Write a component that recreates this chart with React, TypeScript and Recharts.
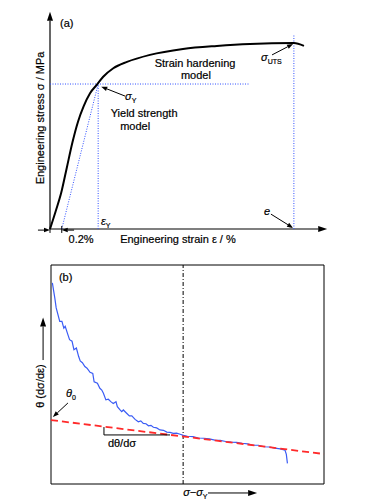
import React from "react";
import {
  ComposedChart,
  Line,
  XAxis,
  YAxis,
  ReferenceLine,
  ReferenceDot,
  ReferenceArea,
} from "recharts";

type Pt = { x: number; y: number };
type Note = {
  x: number;
  y: number;
  text: string;
  sub?: string;
  anchor?: "start" | "middle" | "end";
  italic?: boolean;
  rotate?: boolean;
};

// ---- panel (a): engineering stress-strain curve (schematic units) ----
const stressStrain: Pt[] = [
  { x: 0, y: 0 },
  { x: 2.0, y: 8.0 },
  { x: 4.0, y: 16.5 },
  { x: 6.0, y: 28.0 },
  { x: 8.0, y: 39.5 },
  { x: 10.0, y: 49.0 },
  { x: 12.0, y: 56.0 },
  { x: 14.3, y: 62.0 },
  { x: 16.7, y: 65.8 },
  { x: 19.0, y: 69.5 },
  { x: 22.6, y: 73.4 },
  { x: 27.5, y: 76.3 },
  { x: 35.7, y: 79.5 },
  { x: 47.5, y: 82.2 },
  { x: 59.6, y: 83.6 },
  { x: 71.4, y: 84.5 },
  { x: 87.1, y: 84.9 },
  { x: 90.7, y: 83.6 },
];
const yieldStrain = 17.2;
const yieldStress = 66.2;
const utsStrain = 87.1;
const offsetStrain = 4.2;

const notesA: Note[] = [
  { x: 3.6, y: 92.2, text: "(a)" },
  { x: 51.8, y: 74.0, text: "Strain hardening", anchor: "middle" },
  { x: 52.1, y: 68.5, text: "model", anchor: "middle" },
  { x: 26.8, y: 58.9, text: "σ", sub: "Y", italic: true },
  { x: 33.6, y: 51.1, text: "Yield strength", anchor: "middle" },
  { x: 30.4, y: 45.2, text: "model", anchor: "middle" },
  { x: 75.4, y: 76.7, text: "σ", sub: "UTS", italic: true },
  { x: 76.4, y: 6.4, text: "e", italic: true },
  { x: 18.2, y: 1.6, text: "ε", sub: "Y", italic: true },
  { x: 11.1, y: -6.4, text: "0.2%", anchor: "middle" },
  { x: 45.7, y: -6.4, text: "Engineering strain ε / %", anchor: "middle" },
  { x: -2.1, y: 50.7, text: "Engineering stress σ / MPa", anchor: "middle", rotate: true },
];
const arrowsA: [Pt, Pt][] = [
  [{ x: 26.8, y: 60.7 }, { x: 18.3, y: 65.0 }],
  [{ x: 79.3, y: 79.5 }, { x: 86.8, y: 84.5 }],
  [{ x: 78.9, y: 6.8 }, { x: 86.8, y: 0.5 }],
  [{ x: -4.3, y: -0.5 }, { x: 0, y: -0.5 }],
  [{ x: 8.6, y: -0.5 }, { x: offsetStrain, y: -0.5 }],
];

// ---- panel (b): hardening rate vs net flow stress ----
const hardeningRate: Pt[] = [
  { x: 0.5, y: 91.8 },
  { x: 1.4, y: 84.9 },
  { x: 1.9, y: 80.4 },
  { x: 3.2, y: 74.3 },
  { x: 4.0, y: 74.3 },
  { x: 4.7, y: 71.2 },
  { x: 5.2, y: 72.0 },
  { x: 6.0, y: 68.9 },
  { x: 6.8, y: 65.9 },
  { x: 7.7, y: 65.2 },
  { x: 8.4, y: 61.3 },
  { x: 9.3, y: 62.1 },
  { x: 10.1, y: 58.3 },
  { x: 10.7, y: 56.2 },
  { x: 11.5, y: 55.4 },
  { x: 12.4, y: 53.6 },
  { x: 13.2, y: 52.9 },
  { x: 14.3, y: 51.0 },
  { x: 15.3, y: 50.5 },
  { x: 15.8, y: 46.7 },
  { x: 17.0, y: 46.0 },
  { x: 17.9, y: 43.7 },
  { x: 18.6, y: 42.9 },
  { x: 19.2, y: 41.4 },
  { x: 20.1, y: 38.4 },
  { x: 21.0, y: 38.7 },
  { x: 21.9, y: 37.6 },
  { x: 22.8, y: 36.8 },
  { x: 23.8, y: 37.6 },
  { x: 24.3, y: 35.3 },
  { x: 25.3, y: 33.8 },
  { x: 25.9, y: 33.0 },
  { x: 26.5, y: 33.8 },
  { x: 27.7, y: 32.3 },
  { x: 28.7, y: 31.1 },
  { x: 29.6, y: 31.1 },
  { x: 30.8, y: 29.5 },
  { x: 32.0, y: 28.4 },
  { x: 32.9, y: 28.8 },
  { x: 33.8, y: 27.7 },
  { x: 34.8, y: 27.5 },
  { x: 35.7, y: 26.6 },
  { x: 36.6, y: 26.8 },
  { x: 37.5, y: 25.9 },
  { x: 38.7, y: 25.6 },
  { x: 39.9, y: 24.7 },
  { x: 41.2, y: 24.5 },
  { x: 42.4, y: 23.7 },
  { x: 43.6, y: 23.6 },
  { x: 44.8, y: 23.1 },
  { x: 46.0, y: 23.2 },
  { x: 47.3, y: 22.7 },
  { x: 48.5, y: 22.2 },
  { x: 50, y: 21.8 },
  { x: 52, y: 21.6 },
  { x: 54, y: 21.0 },
  { x: 56, y: 20.9 },
  { x: 58, y: 20.6 },
  { x: 60, y: 20.0 },
  { x: 62, y: 19.9 },
  { x: 64, y: 19.4 },
  { x: 66, y: 19.1 },
  { x: 68, y: 19.0 },
  { x: 70, y: 18.6 },
  { x: 72, y: 18.3 },
  { x: 74, y: 17.7 },
  { x: 76, y: 17.7 },
  { x: 78, y: 17.0 },
  { x: 80, y: 16.9 },
  { x: 82, y: 16.4 },
  { x: 84, y: 16.0 },
  { x: 85.7, y: 15.5 },
  { x: 86.2, y: 13.5 },
  { x: 86.6, y: 9.4 },
];
const linearFit: Pt[] = [
  { x: 0, y: 29.2 },
  { x: 100, y: 13.7 },
];
const splitX = 48.4;

const notesB: Note[] = [
  { x: 2.9, y: 92.7, text: "(b)" },
  { x: 5.5, y: 39.7, text: "θ", sub: "0", italic: true },
  { x: 26.0, y: 16.9, text: "dθ/dσ", anchor: "middle" },
  { x: 48.4, y: -5.5, text: "σ−σ", sub: "Y", italic: true },
  { x: -2.6, y: 44.7, text: "θ (dσ/dε)", anchor: "middle", rotate: true },
];
const arrowsB: [Pt, Pt][] = [
  [{ x: 6.2, y: 37.0 }, { x: 0.7, y: 30.6 }],
  [{ x: -2.9, y: 56.6 }, { x: -2.9, y: 76.0 }],
  [{ x: 57.5, y: -4.1 }, { x: 75.5, y: -4.1 }],
];
const slopeMark: [Pt, Pt][] = [
  [{ x: 19.4, y: 26.0 }, { x: 19.4, y: 22.4 }],
  [{ x: 19.4, y: 22.4 }, { x: 43.6, y: 22.4 }],
];

const FONT = "'Liberation Sans', Arial, sans-serif";
const GUIDE = "#3050ff";

const arrowShape = (head: number, width: number) => (p: any) => {
  const { x1, y1, x2, y2, stroke } = p;
  const dx = x2 - x1;
  const dy = y2 - y1;
  const len = Math.hypot(dx, dy) || 1;
  const ux = dx / len;
  const uy = dy / len;
  const bx = x2 - ux * head;
  const by = y2 - uy * head;
  const px = (-uy * width) / 2;
  const py = (ux * width) / 2;
  return (
    <g>
      <line x1={x1} y1={y1} x2={bx} y2={by} stroke={stroke} strokeWidth={p.strokeWidth} />
      <polygon points={`${x2},${y2} ${bx + px},${by + py} ${bx - px},${by - py}`} fill={stroke} />
    </g>
  );
};

const noteShape = (n: Note) => (p: any) => {
  const { cx, cy } = p;
  return (
    <text
      x={cx}
      y={cy}
      fontFamily={FONT}
      fontSize={11}
      fill="#000"
      stroke="#000"
      strokeWidth={0.2}
      textAnchor={n.anchor || "start"}
      fontStyle={n.italic ? "italic" : "normal"}
      transform={n.rotate ? `rotate(-90 ${cx} ${cy})` : undefined}
    >
      {n.text}
      {n.sub && (
        <tspan fontSize={7} dy={3} fontStyle="normal">
          {n.sub}
        </tspan>
      )}
    </text>
  );
};

const renderNotes = (notes: Note[], key: string) =>
  notes.map((n, i) => (
    <ReferenceDot key={`${key}${i}`} x={n.x} y={n.y} r={0} ifOverflow="visible" shape={noteShape(n)} />
  ));

const renderArrows = (arrows: [Pt, Pt][], key: string, head = 6, width = 4.5) =>
  arrows.map((a, i) => (
    <ReferenceLine
      key={`${key}${i}`}
      segment={a}
      ifOverflow="visible"
      stroke="#000"
      strokeWidth={1}
      shape={arrowShape(head, width)}
    />
  ));

export default function App() {
  return (
    <div style={{ position: "absolute", left: 0, top: 0, width: 378, height: 502, background: "#fff" }}>
      <ComposedChart width={378} height={250} margin={{ top: 10, right: 48, bottom: 21, left: 50 }}>
        <XAxis type="number" dataKey="x" domain={[0, 100]} hide />
        <YAxis type="number" dataKey="y" domain={[0, 100]} hide />
        <ReferenceLine segment={[{ x: 0, y: 0 }, { x: 0, y: 99.2 }]} ifOverflow="visible" stroke="#000" strokeWidth={1.2} shape={arrowShape(9, 6)} />
        <ReferenceLine segment={[{ x: -0.2, y: 0 }, { x: 99, y: 0 }]} ifOverflow="visible" stroke="#000" strokeWidth={1.2} shape={arrowShape(9, 6)} />
        <ReferenceLine segment={[{ x: 0, y: yieldStress }, { x: 71.4, y: yieldStress }]} ifOverflow="visible" stroke={GUIDE} strokeDasharray="1 1.5" />
        <ReferenceLine segment={[{ x: yieldStrain, y: 0 }, { x: yieldStrain, y: yieldStress }]} ifOverflow="visible" stroke={GUIDE} strokeDasharray="1 1.5" />
        <ReferenceLine segment={[{ x: utsStrain, y: 0 }, { x: utsStrain, y: 89 }]} ifOverflow="visible" stroke={GUIDE} strokeDasharray="1 1.5" />
        <ReferenceLine segment={[{ x: offsetStrain, y: 0 }, { x: yieldStrain, y: yieldStress }]} ifOverflow="visible" stroke={GUIDE} strokeDasharray="1 1.5" />
        <ReferenceLine segment={[{ x: offsetStrain, y: -1.8 }, { x: offsetStrain, y: 1.4 }]} ifOverflow="visible" stroke="#000" />
        <ReferenceLine segment={[{ x: 0, y: -1.8 }, { x: 0, y: 0 }]} ifOverflow="visible" stroke="#000" />
        <Line data={stressStrain} dataKey="y" type="monotone" stroke="#000" strokeWidth={2} dot={false} isAnimationActive={false} />
        {renderArrows(arrowsA, "aa")}
        {renderNotes(notesA, "na")}
      </ComposedChart>
      <ComposedChart width={378} height={252} margin={{ top: 15, right: 54, bottom: 18, left: 51 }}>
        <XAxis type="number" dataKey="x" domain={[0, 100]} hide />
        <YAxis type="number" dataKey="y" domain={[0, 100]} hide />
        <ReferenceArea x1={0} x2={100} y1={0} y2={100} fill="none" fillOpacity={0} stroke="#000" strokeWidth={1} ifOverflow="visible" />
        <ReferenceLine x={splitX} stroke="#000" strokeDasharray="4 2 1 2" strokeWidth={1} />
        <Line data={hardeningRate} dataKey="y" type="linear" stroke="#3a5cf5" strokeWidth={1.2} dot={false} isAnimationActive={false} />
        <Line data={linearFit} dataKey="y" type="linear" stroke="#ff2a2a" strokeWidth={1.8} strokeDasharray="7 4" dot={false} isAnimationActive={false} />
        {slopeMark.map((s, i) => (
          <ReferenceLine key={`s${i}`} segment={s} ifOverflow="visible" stroke="#000" strokeWidth={1} />
        ))}
        {renderArrows(arrowsB.slice(0, 1), "ab")}
        {renderArrows(arrowsB.slice(1), "ab2", 9, 6)}
        {renderNotes(notesB, "nb")}
      </ComposedChart>
    </div>
  );
}
